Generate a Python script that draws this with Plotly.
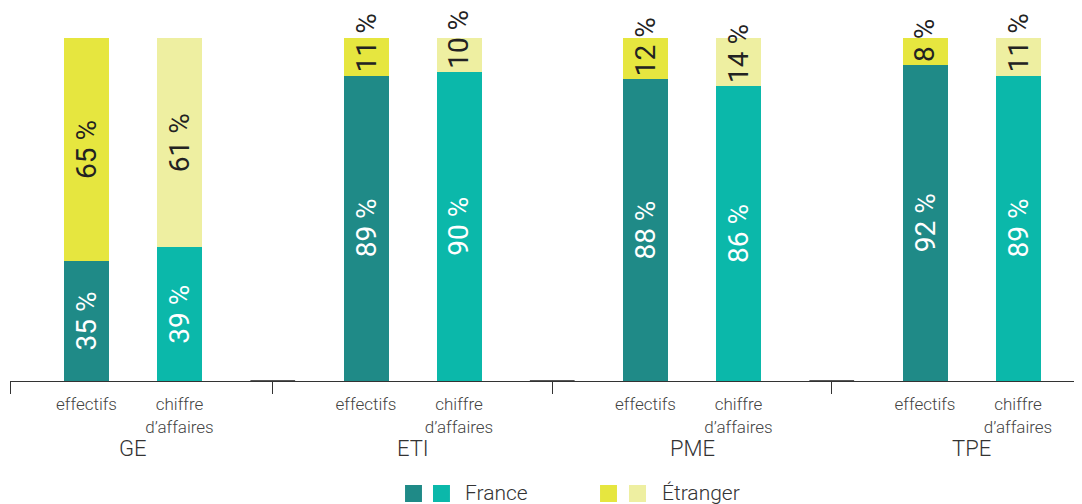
import plotly.graph_objects as go

groups = ["GE", "ETI", "PME", "TPE"]
bar_labels = ["effectifs", "chiffre<br>d’affaires"]
france_eff = [35, 89, 88, 92]
etranger_eff = [65, 11, 12, 8]
france_ca = [39, 90, 86, 89]
etranger_ca = [61, 10, 14, 11]

C_FR_EFF = "#1f8a87"
C_FR_CA = "#0bb8aa"
C_ET_EFF = "#e6e63f"
C_ET_CA = "#eeefa1"
FONT = "Roboto"

off = 0.1664
bw = 0.161
gidx = list(range(len(groups)))
x_eff = [i - off for i in gidx]
x_ca = [i + off for i in gidx]
x_range = [-0.4401, 3.3953]

fig = go.Figure()
fig.add_bar(x=x_eff, y=france_eff, width=bw, marker=dict(color=C_FR_EFF, line=dict(width=0)), name="France", showlegend=False)
fig.add_bar(x=x_ca, y=france_ca, width=bw, marker=dict(color=C_FR_CA, line=dict(width=0)), name="France", showlegend=False)
fig.add_bar(x=x_eff, y=etranger_eff, width=bw, marker=dict(color=C_ET_EFF, line=dict(width=0)), name="Étranger", showlegend=False)
fig.add_bar(x=x_ca, y=etranger_ca, width=bw, marker=dict(color=C_ET_CA, line=dict(width=0)), name="Étranger", showlegend=False)

# helper trace for the boundary-tick axis
fig.add_scatter(x=[x_range[0]], y=[0], xaxis="x2", mode="markers", marker=dict(opacity=0), showlegend=False, hoverinfo="skip")

annotations = []
LBL = 28
LBL_W = 400
for xs, fr, et in [(x_eff, france_eff, etranger_eff), (x_ca, france_ca, etranger_ca)]:
    for x, f, e in zip(xs, fr, et):
        annotations.append(dict(x=x, y=f / 2, xref="x", yref="y", text=f"{f} %", textangle=-90,
                                showarrow=False, font=dict(family=FONT, size=LBL, color="white", weight=LBL_W),
                                xanchor="center", yanchor="middle"))
        if e >= 30:
            annotations.append(dict(x=x, y=f + e / 2, xref="x", yref="y", text=f"{e} %", textangle=-90,
                                    showarrow=False, font=dict(family=FONT, size=LBL, color="#222222", weight=LBL_W),
                                    xanchor="center", yanchor="middle"))
        else:
            annotations.append(dict(x=x, y=f, xref="x", yref="y", text=f"{e} %", textangle=-90,
                                    showarrow=False, font=dict(family=FONT, size=LBL, color="#222222", weight=LBL_W),
                                    xanchor="center", yanchor="bottom", yshift=2, borderpad=0))

for i, g in zip(gidx, groups):
    annotations.append(dict(x=i, y=-0.198, xref="x", yref="paper", text=g, showarrow=False,
                            font=dict(family=FONT, size=22, color="#333333", weight=300),
                            xanchor="center", yanchor="middle"))

# legend (drawn)
shapes = []
leg_y0, leg_y1 = -0.3528, -0.3032
for x0, x1, c in [(0.3685, 0.3843, C_FR_EFF), (0.3946, 0.4104, C_FR_CA),
                  (0.5504, 0.5662, C_ET_EFF), (0.5774, 0.5933, C_ET_CA)]:
    shapes.append(dict(type="rect", xref="paper", yref="paper", x0=x0, x1=x1, y0=leg_y0, y1=leg_y1,
                       fillcolor=c, line=dict(width=0)))
for x, t in [(0.4226, "France"), (0.6063, "Étranger")]:
    annotations.append(dict(x=x, y=(leg_y0 + leg_y1) / 2, xref="paper", yref="paper", text=t, showarrow=False,
                            font=dict(family=FONT, size=21, color="#333333", weight=300),
                            xanchor="left", yanchor="middle", yshift=1))

boundaries = [x_range[0]] + [i - 0.5 for i in gidx[1:]]
# slightly heavier axis segments around inner group boundaries
for b in boundaries[1:]:
    shapes.append(dict(type="line", xref="x", yref="y", x0=b - 0.08, x1=b + 0.08, y0=0, y1=0,
                       line=dict(color="#555555", width=2), layer="above"))

tickfont = dict(family=FONT, size=17, color="#444444", weight=300)

fig.update_layout(
    width=1074, height=496,
    margin=dict(l=2, r=0, t=30, b=123),
    paper_bgcolor="white", plot_bgcolor="white",
    barmode="stack",
    showlegend=False,
    xaxis=dict(range=x_range, showgrid=False, zeroline=False, showline=True, linecolor="#333333", linewidth=1,
               tickvals=x_eff + x_ca,
               ticktext=[bar_labels[0]] * len(gidx) + [bar_labels[1]] * len(gidx),
               ticks="outside", ticklen=8, tickcolor="rgba(0,0,0,0)", tickfont=tickfont),
    xaxis2=dict(range=x_range, overlaying="x", anchor="y", side="bottom", showgrid=False, zeroline=False,
                showline=False, tickvals=boundaries, ticks="outside", ticklen=12, tickcolor="#333333",
                tickwidth=1, showticklabels=False),
    yaxis=dict(range=[0, 100], visible=False, showgrid=False, zeroline=False),
    annotations=annotations,
    shapes=shapes,
)

fig.write_html("out.html")
